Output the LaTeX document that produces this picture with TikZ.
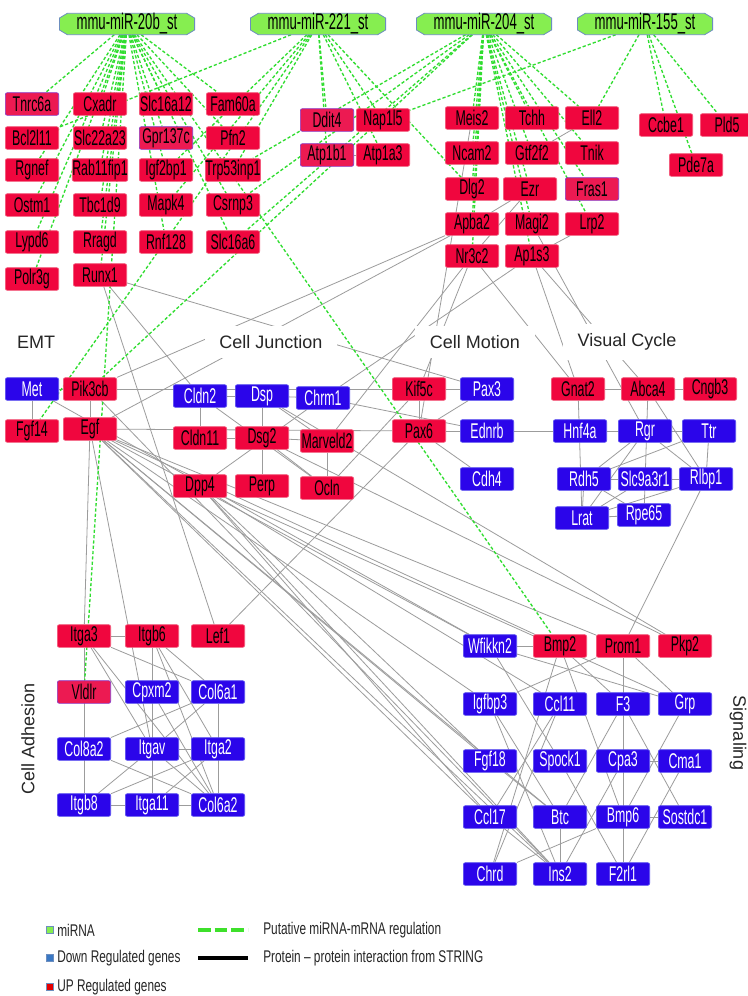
\documentclass[tikz,border=0pt]{standalone}
\usepackage{fontspec}
\setmainfont{Liberation Sans}
\newfontfamily\nodefont[FakeStretch=0.58]{Liberation Sans}
\newfontfamily\legfont[FakeStretch=0.7]{Liberation Sans}
\usetikzlibrary{backgrounds}
\definecolor{upred}{HTML}{F0063E}
\definecolor{upredx}{HTML}{EC1A52}
\definecolor{upborder}{HTML}{F25A7A}
\definecolor{purpleb}{HTML}{8A3CC8}
\definecolor{dnblue}{HTML}{2B05EA}
\definecolor{dnborder}{HTML}{5A50F0}
\definecolor{mirgreen}{HTML}{86EE50}
\definecolor{mirborder}{HTML}{6C8EBF}
\definecolor{mtgreen}{HTML}{30DD30}
\definecolor{ppigray}{HTML}{9C9C9C}
\definecolor{legblue}{HTML}{3A78C4}
\tikzset{
  gene/.style={rectangle, rounded corners=1.5pt, minimum width=40pt, minimum height=17pt,
    inner sep=0pt, line width=0.5pt, font=\nodefont\fontsize{16}{16}\selectfont},
  up/.style={gene, fill=upred, draw=upborder, text=black},
  upx/.style={gene, fill=upredx, draw=purpleb, text=black},
  dn/.style={gene, fill=dnblue, draw=dnborder, text=white},
  mir/.style={rectangle, minimum width=101pt, minimum height=13.5pt, inner sep=0pt,
    font=\nodefont\fontsize{17}{16}\selectfont, text=black},
  mirdraw/.style={fill=mirgreen, draw=mirborder, line width=0.6pt},
  grp/.style={fill=white, inner xsep=11pt, inner ysep=7pt, font=\fontsize{13.5}{15}\selectfont, text=black!85},
  ppi/.style={draw=ppigray, line width=0.6pt},
  mt/.style={draw=mtgreen, line width=1pt, dash pattern=on 2.4pt off 1.6pt},
  legtxt/.style={anchor=west, inner sep=0pt, font=\legfont\fontsize{12.7}{14}\selectfont, text=black!85},
  legsq/.style={rectangle, minimum size=5.6pt, inner sep=0pt, line width=0.7pt},
}
\newcommand\mirOct[1]{%
  \filldraw[mirdraw] ([xshift=6pt]#1.north west) -- ([xshift=-6pt]#1.north east)
    -- ([yshift=-3.6pt]#1.north east) -- ([yshift=3.6pt]#1.south east)
    -- ([xshift=-6pt]#1.south east) -- ([xshift=6pt]#1.south west)
    -- ([yshift=3.6pt]#1.south west) -- ([yshift=-3.6pt]#1.north west) -- cycle;}
\begin{document}
\begin{tikzpicture}[x=0.75pt,y=-0.75pt]
\useasboundingbox (0,0) rectangle (748,996);
% ---------- miRNAs
\node[mir] (m20b) at (127,24) {mmu-miR-20b\_st};
\node[mir] (m221) at (318,24) {mmu-miR-221\_st};
\node[mir] (m204) at (484,24) {mmu-miR-204\_st};
\node[mir] (m155) at (645,24) {mmu-miR-155\_st};
% ---------- top-left targets
\node[upx] (Tnrc6a) at (32,104) {Tnrc6a};
\node[up] (Bcl2l11) at (32,138) {Bcl2l11};
\node[up] (Rgnef) at (32,170) {Rgnef};
\node[up] (Ostm1) at (32,205) {Ostm1};
\node[up] (Lypd6) at (32,242) {Lypd6};
\node[up] (Polr3g) at (32,279) {Polr3g};
\node[up] (Cxadr) at (100,104) {Cxadr};
\node[up] (Slc22a23) at (100,138) {Slc22a23};
\node[up] (Rab11fip1) at (100,170) {Rab11fip1};
\node[up] (Tbc1d9) at (100,205) {Tbc1d9};
\node[up] (Rragd) at (100,242) {Rragd};
\node[up] (Runx1) at (100,275) {Runx1};
\node[up] (Slc16a12) at (166,104) {Slc16a12};
\node[upx] (Gpr137c) at (166,138) {Gpr137c};
\node[up] (Igf2bp1) at (166,170) {Igf2bp1};
\node[up] (Mapk4) at (166,205) {Mapk4};
\node[up] (Rnf128) at (166,242) {Rnf128};
\node[up] (Fam60a) at (233,104) {Fam60a};
\node[up] (Pfn2) at (233,138) {Pfn2};
\node[up] (Trp53inp1) at (233,170) {Trp53inp1};
\node[up] (Csrnp3) at (233,205) {Csrnp3};
\node[up] (Slc16a6) at (233,242) {Slc16a6};
\node[upx] (Ddit4) at (327,120) {Ddit4};
\node[up] (Nap1l5) at (383,120) {Nap1l5};
\node[upx] (Atp1b1) at (327,155) {Atp1b1};
\node[up] (Atp1a3) at (383,155) {Atp1a3};
% ---------- top-right targets
\node[up] (Meis2) at (472,118) {Meis2};
\node[up] (Ncam2) at (472,153) {Ncam2};
\node[up] (Dlg2) at (472,189) {Dlg2};
\node[up] (Apba2) at (472,224) {Apba2};
\node[up] (Nr3c2) at (472,256) {Nr3c2};
\node[up] (Tchh) at (532,118) {Tchh};
\node[up] (Gtf2f2) at (532,153) {Gtf2f2};
\node[up] (Ezr) at (530,189) {Ezr};
\node[up] (Magi2) at (532,224) {Magi2};
\node[up] (Ap1s3) at (532,256) {Ap1s3};
\node[up] (Ell2) at (592,118) {Ell2};
\node[up] (Tnik) at (592,153) {Tnik};
\node[upx] (Fras1) at (592,189) {Fras1};
\node[up] (Lrp2) at (592,224) {Lrp2};
\node[up] (Ccbe1) at (666,125) {Ccbe1};
\node[up] (Pld5) at (727,125) {Pld5};
\node[up] (Pde7a) at (696,165) {Pde7a};
% ---------- group labels
\node[grp] (lEMT) at (36,342) {EMT};
\node[grp] (lCJ) at (271,342) {Cell Junction};
\node[grp] (lCM) at (475,342) {Cell Motion};
\node[grp] (lVC) at (627,342) {Visual Cycle};
\node[grp, rotate=90, inner ysep=2pt] (lCA) at (28,739) {Cell Adhesion};
\node[grp, rotate=-90, inner ysep=0pt, inner xsep=4pt] (lSig) at (738,733) {Signaling};
% ---------- EMT / junction
\node[dn] (Met) at (32,389) {Met};
\node[up] (Pik3cb) at (90,389) {Pik3cb};
\node[up] (Fgf14) at (32,431) {Fgf14};
\node[up] (Egf) at (90,429) {Egf};
\node[dn] (Cldn2) at (200,396) {Cldn2};
\node[dn] (Dsp) at (262,396) {Dsp};
\node[dn] (Chrm1) at (323,398) {Chrm1};
\node[up] (Cldn11) at (200,438) {Cldn11};
\node[up] (Dsg2) at (262,438) {Dsg2};
\node[up] (Marveld2) at (327,441) {Marveld2};
\node[up] (Dpp4) at (200,486) {Dpp4};
\node[up] (Perp) at (262,486) {Perp};
\node[up] (Ocln) at (327,488) {Ocln};
% ---------- motion
\node[up] (Kif5c) at (419,389) {Kif5c};
\node[dn] (Pax3) at (487,389) {Pax3};
\node[up] (Pax6) at (419,431) {Pax6};
\node[dn] (Ednrb) at (487,431) {Ednrb};
\node[dn] (Cdh4) at (487,479) {Cdh4};
% ---------- visual cycle
\node[up] (Gnat2) at (578,389) {Gnat2};
\node[up] (Abca4) at (648,389) {Abca4};
\node[up] (Cngb3) at (710,389) {Cngb3};
\node[dn] (Hnf4a) at (580,431) {Hnf4a};
\node[dn] (Rgr) at (645,431) {Rgr};
\node[dn] (Ttr) at (709,431) {Ttr};
\node[dn] (Rdh5) at (584,479) {Rdh5};
\node[dn] (Slc9a3r1) at (645,479) {Slc9a3r1};
\node[dn] (Rlbp1) at (706,479) {Rlbp1};
\node[dn] (Lrat) at (582,518) {Lrat};
\node[dn] (Rpe65) at (644,515) {Rpe65};
% ---------- adhesion
\node[up] (Itga3) at (84,636) {Itga3};
\node[up] (Itgb6) at (152,636) {Itgb6};
\node[up] (Lef1) at (218,636) {Lef1};
\node[upx] (Vldlr) at (84,692) {Vldlr};
\node[dn] (Cpxm2) at (152,692) {Cpxm2};
\node[dn] (Col6a1) at (218,692) {Col6a1};
\node[dn] (Col8a2) at (84,749) {Col8a2};
\node[dn] (Itgav) at (152,749) {Itgav};
\node[dn] (Itga2) at (218,749) {Itga2};
\node[dn] (Itgb8) at (84,805) {Itgb8};
\node[dn] (Itga11) at (152,805) {Itga11};
\node[dn] (Col6a2) at (218,805) {Col6a2};
% ---------- signaling
\node[dn] (Wfikkn2) at (490,646) {Wfikkn2};
\node[up] (Bmp2) at (560,646) {Bmp2};
\node[up] (Prom1) at (623,646) {Prom1};
\node[up] (Pkp2) at (685,646) {Pkp2};
\node[dn] (Igfbp3) at (490,704) {Igfbp3};
\node[dn] (Ccl11) at (560,704) {Ccl11};
\node[dn] (F3) at (623,704) {F3};
\node[dn] (Grp) at (685,704) {Grp};
\node[dn] (Fgf18) at (490,761) {Fgf18};
\node[dn] (Spock1) at (560,761) {Spock1};
\node[dn] (Cpa3) at (623,761) {Cpa3};
\node[dn] (Cma1) at (685,761) {Cma1};
\node[dn] (Ccl17) at (490,817) {Ccl17};
\node[dn] (Btc) at (560,817) {Btc};
\node[dn] (Bmp6) at (623,817) {Bmp6};
\node[dn] (Sostdc1) at (685,817) {Sostdc1};
\node[dn] (Chrd) at (490,874) {Chrd};
\node[dn] (Ins2) at (560,874) {Ins2};
\node[dn] (F2rl1) at (623,874) {F2rl1};
% ---------- legend
\node[legsq, fill=mirgreen, draw=mirborder] (lg1) at (50,930) {};
\node[legsq, fill=legblue, draw=mirborder] (lg2) at (50,958) {};
\node[legsq, fill=red!90!black, draw=mirborder] (lg3) at (50,987) {};
\node[legtxt] (lt1) at (57,930) {miRNA};
\node[legtxt] (lt2) at (57,958) {Down Regulated genes};
\node[legtxt] (lt3) at (57,987) {UP Regulated genes};
\coordinate (la1) at (198,930); \coordinate (lb1) at (248,930);
\coordinate (la2) at (198,958); \coordinate (lb2) at (248,958);
\draw[draw=mtgreen!90!lime, line width=3pt, dash pattern=on 9.5pt off 3pt] (la1) -- (lb1);
\draw[black, line width=3pt] (la2) -- (lb2);
\node[legtxt] (lt4) at (263,930) {Putative miRNA-mRNA regulation};
\node[legtxt] (lt5) at (263,958) {Protein – protein interaction from STRING};
% ---------- edges
\begin{scope}[on background layer]
\fill[white] (0,0) rectangle (748,996);
% PPI
\foreach \a/\b in {
  Apba2/Pik3cb, Apba2/Egf, Runx1/Pax3, Runx1/Cldn2, Runx1/Lef1, Meis2/Pax6,
  Nr3c2/Kif5c, Nr3c2/Gnat2, Nr3c2/Marveld2, Ap1s3/Chrm1, Ap1s3/Abca4, Ap1s3/Gnat2,
  Magi2/Rgr, Lrp2/Ap1s3, Ezr/Apba2, Ezr/Nr3c2, Ell2/Gtf2f2, Atp1b1/Atp1a3,
  Met/Pik3cb, Met/Fgf14, Pik3cb/Egf, Pik3cb/Kif5c, Egf/Pax6,
  Cldn2/Dsp, Dsp/Chrm1, Cldn2/Cldn11, Dsp/Dsg2, Cldn11/Dsg2, Dsg2/Marveld2, Dsg2/Perp,
  Marveld2/Ocln, Cldn2/Ocln, Chrm1/Dpp4, Dsp/Marveld2, Dsg2/Ocln, Chrm1/Ednrb, Ocln/Kif5c,
  Met/Wfikkn2, Pik3cb/Ins2, Egf/Itga3, Egf/Itgav,
  Kif5c/Pax3, Pax6/Ednrb, Pax6/Pax3, Pax6/Cdh4, Kif5c/Pax6, Ednrb/Hnf4a, Lef1/Pax6,
  Gnat2/Abca4, Abca4/Cngb3, Hnf4a/Rgr, Hnf4a/Ttr, Abca4/Rpe65, Abca4/Rlbp1, Gnat2/Lrat,
  Rgr/Rdh5, Rgr/Lrat, Rgr/Rlbp1, Ttr/Rlbp1, Ttr/Rdh5, Rdh5/Slc9a3r1, Slc9a3r1/Rlbp1,
  Lrat/Rpe65, Rdh5/Lrat, Rdh5/Rpe65, Rlbp1/Lrat, Slc9a3r1/Lrat, Rlbp1/Prom1,
  Wfikkn2/Bmp2, Prom1/Igfbp3, Bmp2/Chrd, Bmp2/Bmp6, Bmp6/Chrd, Bmp6/Sostdc1, Cpa3/Cma1,
  F3/F2rl1, Cma1/F2rl1, Ccl11/Ccl17, Btc/Ins2, Ccl17/Ins2, Igfbp3/Ins2, Spock1/F2rl1,
  F3/Sostdc1, Grp/Bmp6, Bmp2/F3, Wfikkn2/Grp, Prom1/Grp, Cpa3/Ins2, F3/Btc, Ccl11/Chrd,
  Igfbp3/Btc, Fgf18/Btc, Prom1/Cpa3, Wfikkn2/Spock1,
  Egf/Wfikkn2, Egf/Igfbp3, Egf/Fgf18, Egf/Ccl17, Egf/Btc, Egf/Ins2, Egf/Bmp2, Egf/Prom1,
  Dpp4/Ccl11, Dpp4/Ccl17, Dpp4/Ins2, Dpp4/Grp, Dpp4/Fgf18, Dsg2/Pkp2, Dsp/Pkp2,
  Itga3/Itgb6, Itga3/Itgb8, Itgb6/Itga11, Col6a1/Col6a2, Itga3/Col6a1, Itga3/Itgav,
  Itga3/Col6a2, Itgb6/Col6a1, Itgb6/Itga2, Itgb6/Col6a2, Col6a1/Col8a2, Col6a1/Itgav,
  Cpxm2/Col6a2, Col8a2/Col6a2, Itgav/Itga2, Itgav/Itgb8, Itga2/Itgb8, Itga2/Itga11,
  Itgav/Col6a2, Itgb8/Itga11, Itga11/Col6a2}
  \draw[ppi] (\a) -- (\b);
% miRNA targets
\foreach \b in {Tnrc6a,Cxadr,Slc16a12,Fam60a,Slc22a23,Gpr137c,Pfn2,Rab11fip1,Igf2bp1,
  Rgnef,Tbc1d9,Ostm1,Rragd,Lypd6,Polr3g,Runx1,Rnf128,Slc16a6,Csrnp3,Bmp2,Vldlr}
  \draw[mt] (m20b) -- (\b);
\foreach \b in {Bcl2l11,Fgf14,Mapk4,Trp53inp1,Ddit4,Atp1b1,Nap1l5,Atp1a3,Dlg2,Igf2bp1}
  \draw[mt] (m221) -- (\b);
\foreach \b in {Trp53inp1,Csrnp3,Slc16a6,Pik3cb,Meis2,Ncam2,Dlg2,Apba2,Nr3c2,Tchh,
  Gtf2f2,Ezr,Magi2,Ap1s3,Ell2,Tnik,Fras1,Lrp2}
  \draw[mt] (m204) -- (\b);
\foreach \b in {Nap1l5,Ell2,Ccbe1,Pde7a,Pld5}
  \draw[mt] (m155) -- (\b);
\mirOct{m20b}
\mirOct{m221}
\mirOct{m204}
\mirOct{m155}
\end{scope}
\end{tikzpicture}
\end{document}
